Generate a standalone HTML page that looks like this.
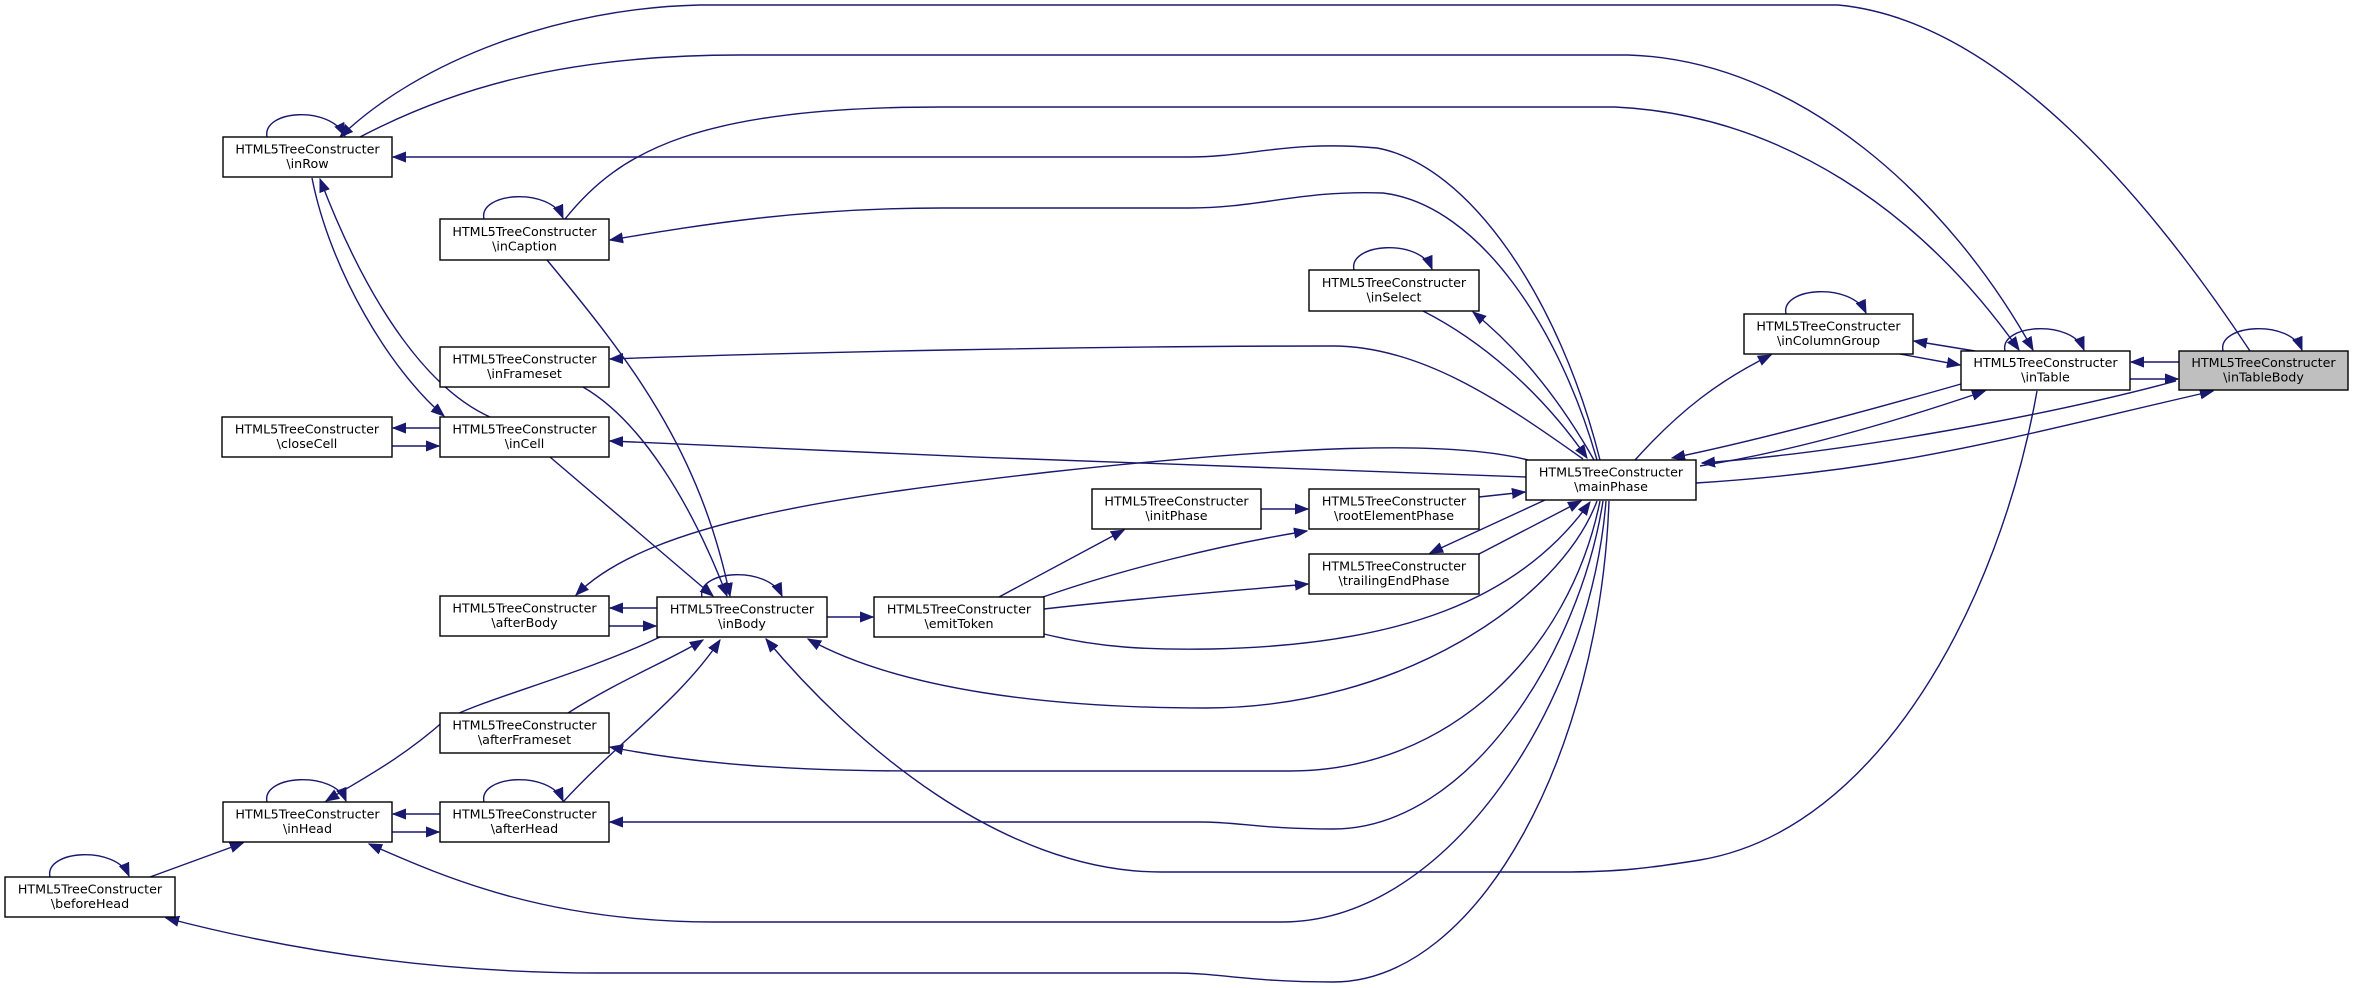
<!DOCTYPE html>
<html><head><meta charset="utf-8">
<style>
html,body{margin:0;padding:0;background:#fff;}
svg{display:block;}
text{font-family:"DejaVu Sans","Liberation Sans",sans-serif;font-size:12.7px;fill:#000;}
.e{fill:none;stroke:#191970;stroke-width:1.4;}
.n{fill:#fff;stroke:#000;stroke-width:1.4;}
</style></head><body>
<svg width="2353" height="988" viewBox="0 0 2353 988" xmlns="http://www.w3.org/2000/svg">
<defs>
<marker id="a" markerUnits="userSpaceOnUse" markerWidth="14" markerHeight="12" refX="13" refY="6" orient="auto">
<path d="M0,1 L13,6 L0,11 Z" fill="#191970" stroke="#191970"/>
</marker>
<marker id="s" markerUnits="userSpaceOnUse" markerWidth="14" markerHeight="12" refX="0" refY="6" orient="auto">
<path d="M13,1 L0,6 L13,11 Z" fill="#191970" stroke="#191970"/>
</marker>
</defs>

<!-- edges -->
<g class="e" marker-end="url(#a)">
<path d="M2250,351 C2150,200 2000,20 1838,5 L700,5 C560,8 420,60 340,137"/>
<path d="M360,137 C450,90 560,55 740,55 L1628,55 C1800,60 1950,200 2033,350"/>
<path d="M565,219 C620,150 700,107 942,107 L1615,107 C1780,115 1920,210 2019,350"/>
<path d="M1600,460 C1560,300 1470,165 1377,148 C1290,140 1250,157 1189,157 L393,157"/>
<path d="M1597,460 C1560,330 1480,205 1383,193 C1300,190 1260,208 1189,208 L942,208 C800,208 700,225 610,240"/>
<path d="M312,178 C330,270 390,370 444,416"/>
<path d="M490,417 C430,390 370,310 320,179"/>
<path d="M547,260 C630,360 700,450 730,596"/>
<path d="M583,387 C640,420 690,500 727,596"/>
<path d="M550,457 L713,596"/>
<path d="M1583,459 C1500,400 1420,346 1333,346 C1100,346 800,352 610,359"/>
<path d="M1526,477 C1300,470 900,455 610,441"/>
<path d="M440,428 L393,428"/>
<path d="M392,446 L439,446"/>
<path d="M1423,311 C1480,340 1540,390 1587,458"/>
<path d="M1594,460 C1560,400 1520,350 1473,312"/>
<path d="M1528,460 C1450,440 1300,445 1050,472 C850,495 650,520 576,595"/>
<path d="M657,608 L610,608"/>
<path d="M609,626 L656,626"/>
<path d="M827,617 L873,617"/>
<path d="M999,597 L1124,530"/>
<path d="M1043,597 C1120,570 1220,545 1307,531"/>
<path d="M1044,609 C1120,600 1220,592 1308,584"/>
<path d="M1261,509 L1308,509"/>
<path d="M1479,497 L1525,492"/>
<path d="M1545,500 L1430,553"/>
<path d="M1479,554 L1581,501"/>
<path d="M1044,634 C1100,648 1150,650 1212,649 C1400,645 1520,600 1590,502"/>
<path d="M1597,501 C1560,600 1400,708 1206,708 C1050,708 900,690 808,639"/>
<path d="M1600,501 C1570,650 1450,771 1290,771 L919,771 C800,771 700,765 610,747"/>
<path d="M1603,501 C1580,650 1470,829 1333,829 C1260,829 1240,822 1200,822 L610,822"/>
<path d="M2037,391 C2000,600 1880,830 1700,860 C1650,868 1620,872 1560,872 L1161,872 C1000,872 850,740 766,639"/>
<path d="M1606,501 C1590,700 1450,922 1282,922 L715,922 C550,922 450,880 369,844"/>
<path d="M1609,501 C1600,750 1480,982 1333,982 C1250,982 1220,973 1174,973 L600,973 C400,973 250,940 166,918"/>
<path d="M660,637 C580,675 480,700 445,720 C400,760 360,780 326,801"/>
<path d="M568,713 C620,680 670,660 703,640"/>
<path d="M563,802 C620,740 680,700 720,640"/>
<path d="M440,814 L393,814"/>
<path d="M392,832 L439,832"/>
<path d="M150,877 L243,843"/>
<path d="M1635,460 C1680,410 1720,380 1771,355"/>
<path d="M1975,351 L1914,341"/>
<path d="M1900,354 L1960,365"/>
<path d="M1961,384 C1870,410 1760,440 1672,458"/>
<path d="M1700,466 C1800,450 1900,420 1985,391"/>
<path d="M1696,483 C1900,470 2000,440 2213,391"/>
<path d="M2179,362 L2131,362"/>
<path d="M2130,379 L2178,379"/>
<path d="M2176,381 C2050,415 1850,452 1702,463"/>
<!-- self loops -->
<path d="M267,137 C262,110 330,105 345,136"/>
<path d="M484,219 C478,192 550,187 563,218"/>
<path d="M1354,270 C1348,243 1420,238 1432,269"/>
<path d="M1786,314 C1780,287 1852,282 1866,313"/>
<path d="M2005,351 C1999,324 2072,319 2084,350"/>
<path d="M2223,351 C2217,324 2290,319 2302,350"/>
<path d="M702,597 C696,570 768,565 782,596"/>
<path d="M267,802 C261,775 334,770 346,801"/>
<path d="M484,802 C478,775 550,770 563,801"/>
<path d="M50,877 C44,850 116,845 129,876"/>
</g>

<!-- nodes -->
<g>
<rect class="n" x="223" y="137" width="169" height="40"/>
<text x="307.5" y="153.5" text-anchor="middle">HTML5TreeConstructer</text><text x="307.5" y="168" text-anchor="middle">\inRow</text>

<rect class="n" x="440" y="219" width="169" height="41"/>
<text x="524.5" y="236" text-anchor="middle">HTML5TreeConstructer</text><text x="524.5" y="250.5" text-anchor="middle">\inCaption</text>

<rect class="n" x="440" y="347" width="169" height="40"/>
<text x="524.5" y="363.5" text-anchor="middle">HTML5TreeConstructer</text><text x="524.5" y="378" text-anchor="middle">\inFrameset</text>

<rect class="n" x="222" y="417" width="170" height="40"/>
<text x="307" y="433.5" text-anchor="middle">HTML5TreeConstructer</text><text x="307" y="448" text-anchor="middle">\closeCell</text>

<rect class="n" x="440" y="417" width="169" height="40"/>
<text x="524.5" y="433.5" text-anchor="middle">HTML5TreeConstructer</text><text x="524.5" y="448" text-anchor="middle">\inCell</text>

<rect class="n" x="1309" y="270" width="170" height="41"/>
<text x="1394" y="287" text-anchor="middle">HTML5TreeConstructer</text><text x="1394" y="301.5" text-anchor="middle">\inSelect</text>

<rect class="n" x="1526" y="460" width="170" height="40"/>
<text x="1611" y="476.5" text-anchor="middle">HTML5TreeConstructer</text><text x="1611" y="491" text-anchor="middle">\mainPhase</text>

<rect class="n" x="1092" y="489" width="169" height="40"/>
<text x="1176.5" y="505.5" text-anchor="middle">HTML5TreeConstructer</text><text x="1176.5" y="520" text-anchor="middle">\initPhase</text>

<rect class="n" x="1309" y="489" width="170" height="40"/>
<text x="1394" y="505.5" text-anchor="middle">HTML5TreeConstructer</text><text x="1394" y="520" text-anchor="middle">\rootElementPhase</text>

<rect class="n" x="1309" y="554" width="170" height="40"/>
<text x="1394" y="570.5" text-anchor="middle">HTML5TreeConstructer</text><text x="1394" y="585" text-anchor="middle">\trailingEndPhase</text>

<rect class="n" x="1744" y="314" width="169" height="40"/>
<text x="1828.5" y="330.5" text-anchor="middle">HTML5TreeConstructer</text><text x="1828.5" y="345" text-anchor="middle">\inColumnGroup</text>

<rect class="n" x="1961" y="351" width="169" height="39"/>
<text x="2045.5" y="367" text-anchor="middle">HTML5TreeConstructer</text><text x="2045.5" y="381.5" text-anchor="middle">\inTable</text>

<rect x="2179" y="351" width="169" height="39" fill="#bfbfbf" stroke="#000" stroke-width="1.4"/>
<text x="2263.5" y="367" text-anchor="middle">HTML5TreeConstructer</text><text x="2263.5" y="381.5" text-anchor="middle">\inTableBody</text>

<rect class="n" x="440" y="596" width="169" height="40"/>
<text x="524.5" y="612.5" text-anchor="middle">HTML5TreeConstructer</text><text x="524.5" y="627" text-anchor="middle">\afterBody</text>

<rect class="n" x="657" y="597" width="170" height="40"/>
<text x="742" y="613.5" text-anchor="middle">HTML5TreeConstructer</text><text x="742" y="628" text-anchor="middle">\inBody</text>

<rect class="n" x="874" y="597" width="170" height="40"/>
<text x="959" y="613.5" text-anchor="middle">HTML5TreeConstructer</text><text x="959" y="628" text-anchor="middle">\emitToken</text>

<rect class="n" x="440" y="713" width="169" height="40"/>
<text x="524.5" y="729.5" text-anchor="middle">HTML5TreeConstructer</text><text x="524.5" y="744" text-anchor="middle">\afterFrameset</text>

<rect class="n" x="223" y="802" width="169" height="40"/>
<text x="307.5" y="818.5" text-anchor="middle">HTML5TreeConstructer</text><text x="307.5" y="833" text-anchor="middle">\inHead</text>

<rect class="n" x="440" y="802" width="169" height="40"/>
<text x="524.5" y="818.5" text-anchor="middle">HTML5TreeConstructer</text><text x="524.5" y="833" text-anchor="middle">\afterHead</text>

<rect class="n" x="5" y="877" width="170" height="40"/>
<text x="90" y="893.5" text-anchor="middle">HTML5TreeConstructer</text><text x="90" y="908" text-anchor="middle">\beforeHead</text>
</g>
</svg>
</body></html>
